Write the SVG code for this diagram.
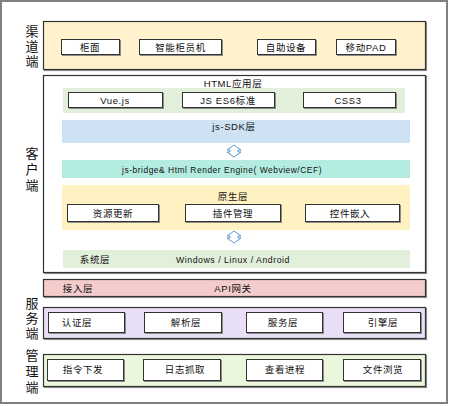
<svg xmlns="http://www.w3.org/2000/svg" width="450" height="406" viewBox="0 0 450 406">
<defs>
<filter id="sh" x="-10%" y="-10%" width="130%" height="150%">
<feDropShadow dx="1" dy="1" stdDeviation="0.4" flood-color="#808080" flood-opacity="0.9"/>
</filter>
</defs>
<style>
text{font-family:"Liberation Sans","Noto Sans CJK SC",sans-serif;fill:#111;}
.t{font-size:9.5px;text-anchor:middle;letter-spacing:0.6px;}
.lbl{font-size:13px;font-family:"Noto Sans CJK SC",sans-serif;writing-mode:vertical-rl;text-orientation:upright;}
.btn{fill:#fff;stroke:#333;stroke-width:1;filter:url(#sh);}
.panel{stroke:#333;stroke-width:1.2;filter:url(#sh);}
.arrow{fill:#fff;stroke:#5b9bd5;stroke-width:1;}
</style>
<rect x="1" y="1" width="446" height="402" fill="#fff" stroke="#808080" stroke-width="2"/>

<g id="channel">
<text class="lbl" x="32" y="25" style="letter-spacing:2px">渠道端</text>
<rect class="panel" x="43.5" y="21.5" width="382" height="48" fill="#fff2cc"/>
<g id="n-guimian"><rect class="btn" x="61.5" y="39.5" width="58" height="15"/><text class="t" x="90" y="50.5">柜面</text></g>
<g id="n-zhineng"><rect class="btn" x="139.5" y="39.5" width="82" height="15"/><text class="t" x="180.5" y="50.5">智能柜员机</text></g>
<g id="n-zizhu"><rect class="btn" x="257.5" y="39.5" width="58" height="15"/><text class="t" x="286" y="50.5">自助设备</text></g>
<g id="n-pad"><rect class="btn" x="336.5" y="39.5" width="59" height="15"/><text class="t" x="366" y="50.5">移动PAD</text></g>
</g>

<g id="client">
<text class="lbl" x="32" y="147" style="letter-spacing:3px">客户端</text>
<rect class="panel" x="43.5" y="75.5" width="382" height="197" fill="#fff"/>
<g id="n-html">
<text class="t" x="233" y="87">HTML应用层</text>
<rect x="63" y="88" width="342" height="25" fill="#e2efda"/>
<g id="n-vue"><rect class="btn" x="68.5" y="92.5" width="94" height="15"/><text class="t" x="115" y="103.5">Vue.js</text></g>
<g id="n-es6"><rect class="btn" x="182.5" y="92.5" width="92" height="15"/><text class="t" x="228" y="103.5">JS ES6标准</text></g>
<g id="n-css3"><rect class="btn" x="303.5" y="92.5" width="92" height="15"/><text class="t" x="348" y="103.5">CSS3</text></g>
</g>
<g id="n-sdk"><rect x="62" y="120" width="348" height="23" fill="#cfe2f3"/><text class="t" x="234" y="130">js-SDK层</text></g>
<g id="n-bridge"><rect x="62" y="160" width="348" height="18" fill="#b4ece1"/><text class="t" x="222" y="173" textLength="200" lengthAdjust="spacingAndGlyphs">js-bridge&amp; Html Render Engine( Webview/CEF)</text></g>
<g id="n-native">
<rect x="62" y="185" width="348" height="45" fill="#fff2c2"/>
<text class="t" x="233" y="200">原生层</text>
<g id="n-res"><rect class="btn" x="67.5" y="204.5" width="91" height="17"/><text class="t" x="113" y="217">资源更新</text></g>
<g id="n-plugin"><rect class="btn" x="185.5" y="204.5" width="95" height="17"/><text class="t" x="233" y="217">插件管理</text></g>
<g id="n-ctrl"><rect class="btn" x="305.5" y="204.5" width="94" height="17"/><text class="t" x="350" y="217">控件嵌入</text></g>
</g>
<g id="n-sys">
<rect x="63" y="250" width="347" height="18" fill="#e2efda"/>
<text class="t" x="95" y="263">系统层</text>
<text class="t" x="233" y="263" textLength="114" lengthAdjust="spacingAndGlyphs">Windows / Linux / Android</text>
</g>
</g>

<g id="connectors">
<path class="arrow" d="M234,145 L241,150 L238,150 L238,152 L241,152 L234,157 L227,152 L230,152 L230,150 L227,150 Z"/>
<path class="arrow" d="M234,231 L241,236 L238,236 L238,238 L241,238 L234,243 L227,238 L230,238 L230,236 L227,236 Z"/>
</g>

<g id="gateway">
<rect class="panel" x="43.5" y="279.5" width="382" height="17" fill="#f4cccc"/>
<text class="t" x="78" y="291.5">接入层</text>
<text class="t" x="233" y="291.5">API网关</text>
</g>

<g id="server">
<text class="lbl" x="32" y="297" style="letter-spacing:2px">服务端</text>
<rect class="panel" x="43.5" y="307.5" width="382" height="31" fill="#e8def6"/>
<g id="n-auth"><rect class="btn" x="48.5" y="312.5" width="76" height="20"/><text class="t" x="77" y="325.5">认证层</text></g>
<g id="n-parse"><rect class="btn" x="144.5" y="312.5" width="77" height="20"/><text class="t" x="186" y="325.5">解析层</text></g>
<g id="n-svc"><rect class="btn" x="246.5" y="312.5" width="76" height="20"/><text class="t" x="283" y="325.5">服务层</text></g>
<g id="n-engine"><rect class="btn" x="343.5" y="312.5" width="77" height="20"/><text class="t" x="383" y="325.5">引擎层</text></g>
</g>

<g id="admin">
<text class="lbl" x="32" y="349" style="letter-spacing:3px">管理端</text>
<rect class="panel" x="43.5" y="354.5" width="382" height="32" fill="#ebf7dc"/>
<g id="n-cmd"><rect class="btn" x="47.5" y="359.5" width="76" height="21"/><text class="t" x="83" y="373">指令下发</text></g>
<g id="n-log"><rect class="btn" x="143.5" y="359.5" width="77" height="21"/><text class="t" x="185" y="373">日志抓取</text></g>
<g id="n-proc"><rect class="btn" x="246.5" y="359.5" width="76" height="21"/><text class="t" x="285" y="373">查看进程</text></g>
<g id="n-file"><rect class="btn" x="343.5" y="359.5" width="77" height="21"/><text class="t" x="383" y="373">文件浏览</text></g>
</g>
</svg>
